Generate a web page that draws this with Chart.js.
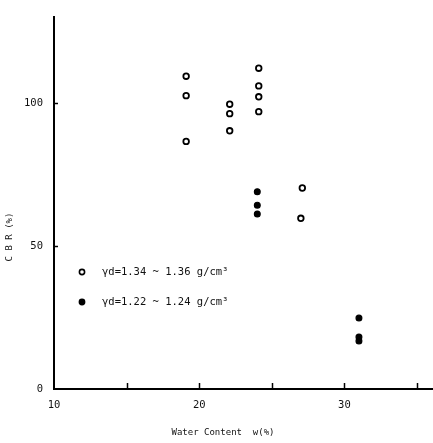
<!DOCTYPE html>
<html>
<head>
<meta charset="utf-8">
<script src="https://cdn.jsdelivr.net/npm/chart.js@4/dist/chart.umd.min.js"></script>
<style>
html,body{margin:0;padding:0;background:#fff;}
#wrap{width:433px;height:443px;}
</style>
</head>
<body>
<div id="wrap"><canvas id="cbr" width="433" height="443"></canvas></div>
<script>
// gamma_d = 1.34 ~ 1.36 g/cm3 (open circles)
const openW   = [19.1, 19.1, 19.1, 22.1, 22.1, 22.1, 24.1, 24.1, 24.1, 24.1, 27.1, 27.0];
const openCBR = [109.4, 102.6, 86.6, 99.6, 96.3, 90.3, 112.2, 106.0, 102.2, 97.0, 70.3, 59.7];
// gamma_d = 1.22 ~ 1.24 g/cm3 (filled circles)
const fillW   = [24.0, 24.0, 24.0, 31.0, 31.0, 31.0];
const fillCBR = [69.0, 64.3, 61.2, 24.8, 18.2, 16.8];

const xTickLabels = [10, 20, 30];
const xTickMarks  = [15, 20, 25, 30, 35];
const yTickLabels = [0, 50, 100];
const yTickMarks  = [50, 100];
const legendLabels = ['\u03b3d=1.34 ~ 1.36 g/cm\u00b3', '\u03b3d=1.22 ~ 1.24 g/cm\u00b3'];

const MONO = '"DejaVu Sans Mono", "Liberation Mono", monospace';

const pts = (xs, ys) => xs.map((x, i) => ({x: x, y: ys[i]}));

// inward tick marks, axis titles placed like the scan, in-plot legend
const decor = {
  id: 'decor',
  afterDraw(chart) {
    const {ctx, chartArea: a, scales: {x, y}} = chart;
    ctx.save();
    ctx.strokeStyle = '#000';
    ctx.lineWidth = 1.5;
    xTickMarks.forEach(v => {
      const px = Math.round(x.getPixelForValue(v)) + 0.5;
      ctx.beginPath(); ctx.moveTo(px, a.bottom); ctx.lineTo(px, a.bottom - 6); ctx.stroke();
    });
    yTickMarks.forEach(v => {
      const py = Math.round(y.getPixelForValue(v)) + 0.5;
      ctx.beginPath(); ctx.moveTo(a.left, py); ctx.lineTo(a.left + 4, py); ctx.stroke();
    });

    ctx.fillStyle = '#111';
    ctx.font = '9px ' + MONO;
    ctx.textAlign = 'center';
    ctx.textBaseline = 'middle';
    ctx.fillText('Water Content  w(%)', 223, 433);

    ctx.save();
    ctx.translate(10, 237);
    ctx.rotate(-Math.PI / 2);
    ctx.fillText('C B R (%)', 0, 0);
    ctx.restore();

    // legend
    ctx.font = '10.5px ' + MONO;
    ctx.textAlign = 'left';
    const rows = [272, 302];
    rows.forEach((ry, i) => {
      ctx.beginPath();
      ctx.arc(82, ry, 2.6, 0, Math.PI * 2);
      ctx.fillStyle = i === 0 ? '#fff' : '#000';
      ctx.fill();
      ctx.lineWidth = 1.6;
      ctx.stroke();
      ctx.fillStyle = '#111';
      ctx.fillText(legendLabels[i], 102, ry);
    });
    ctx.restore();
  }
};

new Chart(document.getElementById('cbr'), {
  type: 'scatter',
  data: {
    datasets: [
      {label: legendLabels[0], data: pts(openW, openCBR), pointStyle: 'circle', pointRadius: 2.8,
       backgroundColor: '#fff', borderColor: '#000', borderWidth: 1.8},
      {label: legendLabels[1], data: pts(fillW, fillCBR), pointStyle: 'circle', pointRadius: 2.9,
       backgroundColor: '#000', borderColor: '#000', borderWidth: 1.2}
    ]
  },
  options: {
    responsive: false,
    animation: false,
    layout: {autoPadding: false, padding: {top: 10, right: 0, left: 0, bottom: 0}},
    plugins: {legend: {display: false}, tooltip: {enabled: false}},
    scales: {
      x: {
        type: 'linear', min: 10, max: 36.1,
        afterBuildTicks: s => { s.ticks = xTickLabels.map(v => ({value: v})); },
        afterFit: s => { s.height = 54; },
        grid: {display: true, drawOnChartArea: false, drawTicks: false},
        border: {display: true, color: '#000', width: 2},
        ticks: {color: '#111', font: {family: MONO, size: 10.5}, padding: 10, maxRotation: 0}
      },
      y: {
        type: 'linear', min: 0, max: 130,
        afterBuildTicks: s => { s.ticks = yTickLabels.map(v => ({value: v})); },
        afterFit: s => { s.width = 54; },
        grid: {display: true, drawOnChartArea: false, drawTicks: false},
        border: {display: true, color: '#000', width: 2},
        ticks: {color: '#111', font: {family: MONO, size: 10.5}, padding: 11}
      }
    }
  },
  plugins: [decor]
});
</script>
</body>
</html>
